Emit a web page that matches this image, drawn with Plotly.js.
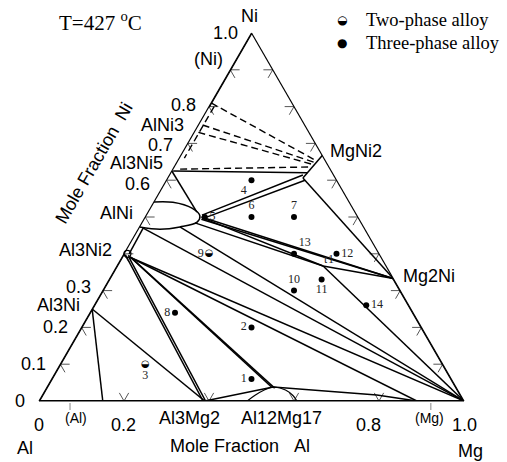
<!DOCTYPE html>
<html><head><meta charset="utf-8">
<script src="https://cdn.plot.ly/plotly-3.0.1.min.js"></script>
<style>html,body{margin:0;padding:0;background:#fff}</style>
</head><body>
<div id="plot" style="width:507px;height:462px"></div>
<script>
// Compositions are given as [Ni, Mg] mole fractions; Al = 1 - Ni - Mg
const pointIds   = ['1','2','3','4','5','6','7','8','9','10','11','12','13','14'];
const pointNi    = [0.06,0.20,0.10,0.60,0.50,0.50,0.50,0.24,0.40,0.30,0.33,0.40,0.40,0.26];
const pointMg    = [0.47,0.40,0.20,0.20,0.14,0.25,0.35,0.20,0.20,0.45,0.50,0.50,0.40,0.64];
const pointPhase = ['three','three','two','three','three','three','three','three','two','three','three','three','three','three'];

// phase-boundary / tie lines (solid)
const solidLines = [
  [[0.25,0],[0,0.15]],                 // Al3Ni - (Al)
  [[0.25,0],[0,0.39]],                 // Al3Ni - Al3Mg2
  [[0.398,0.004],[0,0.386]],           // Al3Ni2 - Al3Mg2
  [[0.393,0.014],[0,0.392]],
  [[0.396,0.012],[0.038,0.528]],       // Al3Ni2 - Al12Mg17
  [[0.391,0.02],[0.035,0.537]],
  [[0,0.39],[0.038,0.532]],            // Al3Mg2 - Al12Mg17
  [[0.038,0.532],[0.016,0.787],[0,0.889]], // Al12Mg17 - (Mg)
  [[0.39,0.02],[0,0.889]],             // Al3Ni2 - (Mg)
  [[0.39,0.02],[0,1]],                 // Al3Ni2 - Mg
  [[0.47,0.01],[0,1]],                 // AlNi - Mg
  [[0.473,0.095],[0,1]],
  [[0.484,0.125],[0.367,0.485]],       // AlNi - tau1
  [[0.497,0.137],[0.367,0.485]],
  [[0.367,0.485],[0.333,0.667]],       // tau1 - Mg2Ni
  [[0.367,0.485],[0,1]],               // tau1 - Mg
  [[0.50,0.132],[0.333,0.667]],        // AlNi - Mg2Ni
  [[0.494,0.135],[0.333,0.667]],
  [[0.505,0.131],[0.614,0.314]],       // AlNi - MgNi2
  [[0.495,0.136],[0.60,0.326]],
  [[0.606,0.318],[0.333,0.667]],       // MgNi2 - Mg2Ni
  [[0.667,0.333],[0.606,0.318]],       // MgNi2 homogeneity
  [[0.625,0],[0.513,0.115]],           // Al3Ni5 - AlNi
  [[0.625,0.003],[0.62,0.321]],        // Al3Ni5 - MgNi2
  [[0.40,0.012],[0.47,0.01]]           // Al3Ni2 - AlNi
];
// AlNi phase field (closed)
const alNiField = [[0.541,0],[0.54,0.045],[0.524,0.098],[0.503,0.127],[0.486,0.129],[0.473,0.095],[0.467,0.051],[0.473,0]];
// Al12Mg17 phase field
const al12Mg17Field = [[0,0.49],[0.015,0.50],[0.03,0.515],[0.038,0.532],[0.03,0.565],[0.015,0.59],[0,0.607]];
// Al3Ni2 phase field (small)
const al3Ni2Point = [0.40,0.008];
// dashed lines (Ni-rich corner)
const dashedLines = [
  [[0.81,0],[0.652,0.328]],
  [[0.75,0.01],[0.648,0.325]],
  [[0.73,0.01],[0.643,0.322]],
  [[0.63,0.017],[0.636,0.324]],
  [[0.80,0.012],[0.66,0.012]]
];
// thicker edge segments
const thickEdges = [
  [[1,0],[0.8,0]],
  [[0.4,0],[0,0]],
  [[0,0],[0,1]],
  [[0.333,0.667],[0,1]]
];
const tau1 = [0.367,0.485];

// ticks
const leftTickNi   = [0.1,0.2,0.3,0.4,0.5,0.6,0.7,0.8,0.9];
const rightTickNi  = [0.1,0.2,0.3,0.4,0.5,0.6,0.7,0.8,0.9];
const bottomTickMg = [0.2,0.4,0.6,0.8];

// axis labels
const leftLabels   = ['1.0','(Ni)','0.8','AlNi3','0.7','Al3Ni5','0.6','AlNi','Al3Ni2','0.3','Al3Ni','0.2','0.1','0'];
const leftLabelNi  = [1.0,0.93,0.805,0.75,0.695,0.648,0.59,0.51,0.41,0.31,0.26,0.20,0.10,0.0];
const bottomLabels = ['0','(Al)','0.2','Al3Mg2','Al12Mg17','0.8','(Mg)','1.0'];
const bottomLabelMg= [0,0.087,0.198,0.355,0.571,0.776,0.918,1.0];
const rightLabels  = ['MgNi2','Mg2Ni'];
const rightLabelNi = [0.68,0.34];
const bottomMarkMg = [0.073,0.922];

// ---------------------------------------------------------------
const L = 39, T = 33, W = 425, H = 368;
const px = x => (x - L) / W, py = y => (T + H - y) / H;
const toPaper = (ni, mg) => ({x: mg + ni / 2, y: ni});

function lineTrace(segs, dash, width, shape, color) {
  const a = [], b = [], c = [];
  segs.forEach(s => {
    s.forEach(([ni, mg]) => { a.push(ni); c.push(mg); b.push(+(1 - ni - mg).toFixed(4)); });
    a.push(null); b.push(null); c.push(null);
  });
  return {type:'scatterternary', mode:'lines', a, b, c, cliponaxis:false,
    line:{color: color || '#000', width, dash, shape: shape || 'linear'}, hoverinfo:'skip', showlegend:false};
}

// tick strokes along the two crossing grid directions
const d = 0.022, tickSegs = [];
leftTickNi.forEach(v => { tickSegs.push([[v,0],[v,d]]); tickSegs.push([[v,0],[v-d,d]]); });
rightTickNi.forEach(v => { tickSegs.push([[v,1-v],[v,1-v-d]]); tickSegs.push([[v,1-v],[v-d,1-v]]); });
bottomTickMg.forEach(m => { tickSegs.push([[0,m],[d,m-d]]); tickSegs.push([[0,m],[d,m]]); });

const traces = [
  lineTrace(tickSegs, 'solid', 1, 'linear', '#555'),
  lineTrace(thickEdges, 'solid', 2.2),
  lineTrace(solidLines, 'solid', 1.5),
  lineTrace([alNiField], 'solid', 1.5, 'spline'),
  lineTrace([al12Mg17Field], 'solid', 1.2, 'spline'),
  lineTrace(dashedLines, '7px,4px', 1.4)
];

traces.push({type:'scatterternary', mode:'markers', a:[al3Ni2Point[0]], c:[al3Ni2Point[1]], b:[1 - al3Ni2Point[0] - al3Ni2Point[1]],
  marker:{symbol:'circle-open', size:7, color:'#000', line:{width:1.3}}, cliponaxis:false, hoverinfo:'skip', showlegend:false});

const idx = pointIds.map((_, i) => i);
const threeIdx = idx.filter(i => pointPhase[i] === 'three');
const twoIdx = idx.filter(i => pointPhase[i] === 'two');
const labelPos = ['middle left','middle left','bottom center','bottom left','middle right','top center','top center',
                  'middle left','middle left','top center','bottom center','middle right','top right','middle right'];
const numFont = {family:'Liberation Serif', size:12, color:'#222'};

traces.push({type:'scatterternary', mode:'markers+text',
  a: threeIdx.map(i => pointNi[i]), c: threeIdx.map(i => pointMg[i]),
  b: threeIdx.map(i => +(1 - pointNi[i] - pointMg[i]).toFixed(4)),
  text: threeIdx.map(i => pointIds[i]), textposition: threeIdx.map(i => labelPos[i]), textfont:numFont,
  marker:{symbol:'circle', size:6, color:'#000'}, cliponaxis:false, hoverinfo:'skip', showlegend:false});

traces.push({type:'scatterternary', mode:'markers+text',
  a: twoIdx.map(i => pointNi[i]), c: twoIdx.map(i => pointMg[i]),
  b: twoIdx.map(i => +(1 - pointNi[i] - pointMg[i]).toFixed(4)),
  text: twoIdx.map(i => pointIds[i]), textposition: twoIdx.map(i => labelPos[i]), textfont:numFont,
  marker:{symbol:'circle', size:7, color:'rgba(0,0,0,0)'}, cliponaxis:false, hoverinfo:'skip', showlegend:false});

traces.push({type:'scatterternary', mode:'text',
  a: twoIdx.map(i => pointNi[i]), c: twoIdx.map(i => pointMg[i]),
  b: twoIdx.map(i => +(1 - pointNi[i] - pointMg[i]).toFixed(4)),
  text: twoIdx.map(() => '◒'), textposition:'middle center',
  textfont:{family:'DejaVu Sans', size:10, color:'#000'}, cliponaxis:false, hoverinfo:'skip', showlegend:false});

traces.push({type:'scatterternary', mode:'text', a:[tau1[0]], c:[tau1[1]], b:[1 - tau1[0] - tau1[1]],
  text:['τ1'], textposition:'top right', textfont:numFont, cliponaxis:false, hoverinfo:'skip', showlegend:false});

const sans = {family:'Liberation Sans, Arial, sans-serif', size:18, color:'#000'};
const serif = {family:'Liberation Serif, Times New Roman, serif', size:18.5, color:'#000'};
const ann = [];
const A = (x, y, text, font, extra) => ann.push(Object.assign({x, y, xref:'paper', yref:'paper', text, showarrow:false,
  xanchor:'center', yanchor:'middle', borderpad:0, font}, extra || {}));

leftLabels.forEach((t, i) => {
  const p = toPaper(leftLabelNi[i], 0);
  A(p.x, p.y, t, sans, {xanchor:'right', xshift:-13});
});
bottomLabels.forEach((t, i) => {
  const p = toPaper(0, bottomLabelMg[i]);
  const num = /^[0-9.]+$/.test(t);
  A(p.x, p.y, t, t.startsWith('(') ? Object.assign({}, sans, {size:14}) : sans, {yshift: num ? -24 : -17});
});
rightLabels.forEach((t, i) => {
  const p = {x: 1 - rightLabelNi[i] / 2, y: rightLabelNi[i]};
  A(p.x, p.y, t, sans, {xanchor:'left', xshift:10});
});
A(px(249), py(16), 'Ni', sans);
A(px(25), py(448), 'Al', sans);
A(px(470), py(451), 'Mg', sans);
A(px(240), py(446), 'Mole Fraction\u00a0\u00a0\u00a0Al', sans);
A(px(94), py(163), 'Mole Fraction\u00a0\u00a0Ni', sans, {textangle:-60});
A(px(58), py(21), 'T=427 <sup>o</sup>C', Object.assign({}, serif, {size:21}), {xanchor:'left'});
A(px(342), py(20), '◒', {family:'DejaVu Sans', size:12, color:'#000'});
A(px(342), py(43), '●', {family:'DejaVu Sans', size:12, color:'#000'});
A(px(365), py(20), 'Two-phase alloy', serif, {xanchor:'left'});
A(px(365), py(43), 'Three-phase alloy', serif, {xanchor:'left'});

const shapes = bottomMarkMg.map(m => ({type:'line', xref:'paper', yref:'paper', x0:m, x1:m, y0:py(403), y1:py(410), line:{color:'#888', width:1}}));

const ax = () => ({title:{text:''}, min:0, showgrid:false, showline:true, linecolor:'#000', linewidth:1.2,
  ticks:'', showticklabels:false});

const layout = {
  width:507, height:462, paper_bgcolor:'#fff', plot_bgcolor:'#fff',
  margin:{l:L, r:507 - L - W, t:T, b:462 - T - H},
  ternary:{sum:1, bgcolor:'#fff', domain:{x:[0,1], y:[0,1]}, aaxis:ax(), baxis:ax(), caxis:ax()},
  annotations: ann, shapes: shapes, showlegend:false
};
Plotly.newPlot('plot', traces, layout, {staticPlot:true, displayModeBar:false});
</script>
</body></html>
